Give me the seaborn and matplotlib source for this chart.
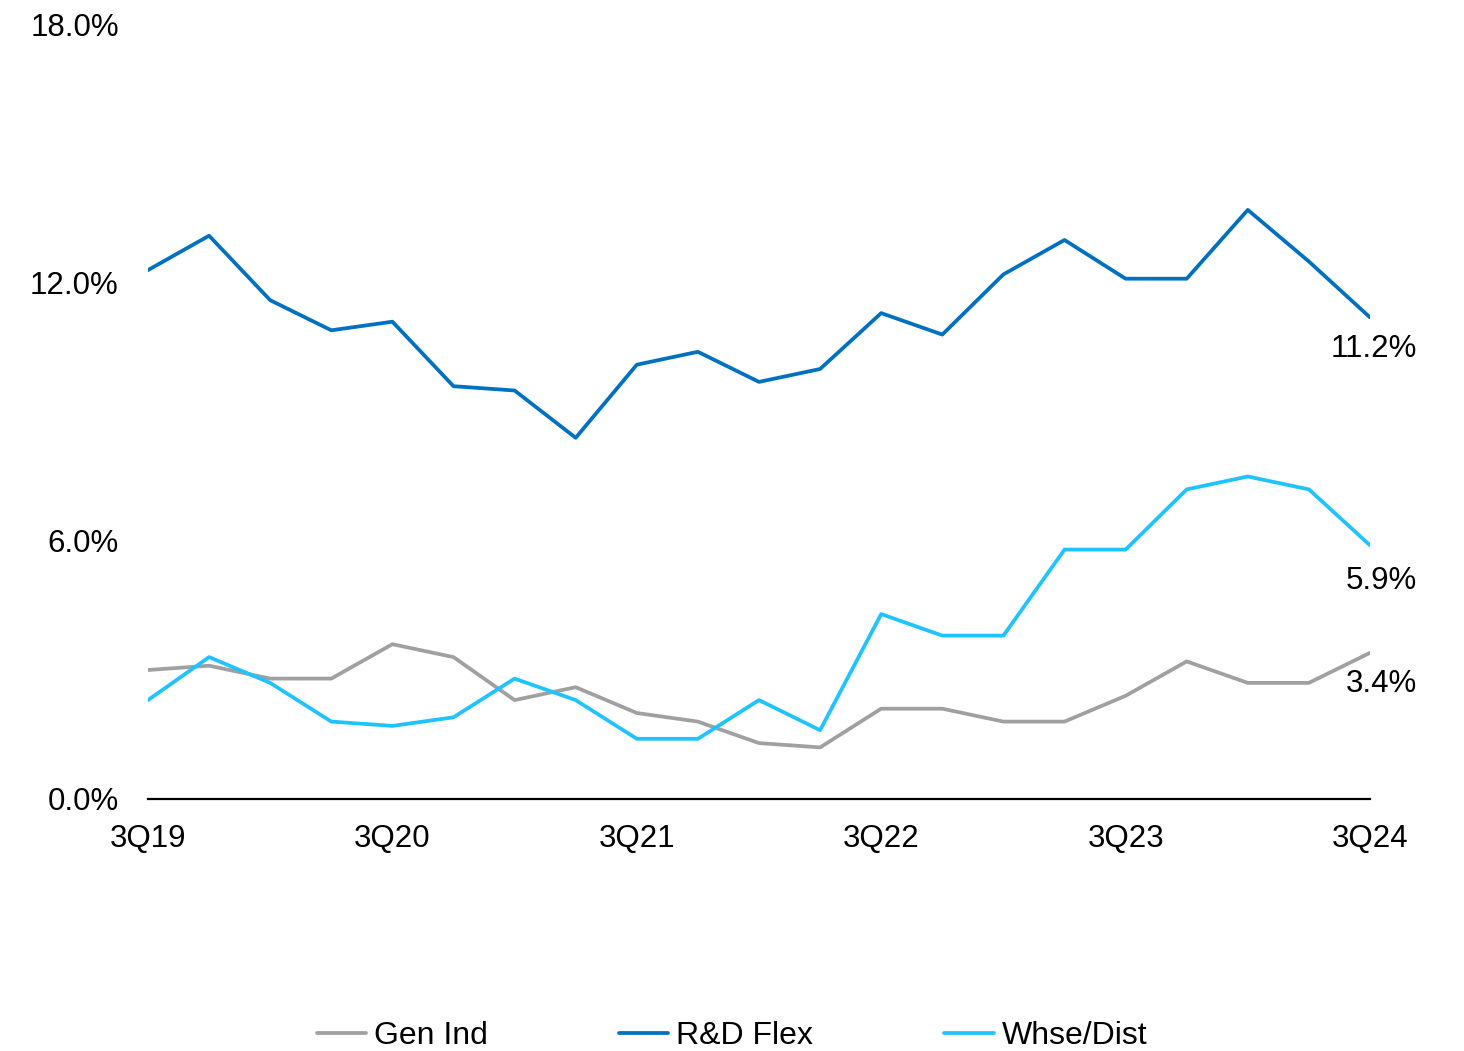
import matplotlib
matplotlib.use("Agg")
import matplotlib.pyplot as plt
import seaborn as sns
import pandas as pd
from matplotlib.lines import Line2D
from matplotlib.ticker import FuncFormatter

# Quarterly vacancy rates by property type (%)
quarters = ["3Q19", "4Q19", "1Q20", "2Q20", "3Q20", "4Q20", "1Q21", "2Q21",
            "3Q21", "4Q21", "1Q22", "2Q22", "3Q22", "4Q22", "1Q23", "2Q23",
            "3Q23", "4Q23", "1Q24", "2Q24", "3Q24"]
gen_ind = [3.0, 3.1, 2.8, 2.8, 3.6, 3.3, 2.3, 2.6, 2.0, 1.8, 1.3, 1.2,
           2.1, 2.1, 1.8, 1.8, 2.4, 3.2, 2.7, 2.7, 3.4]
rd_flex = [12.3, 13.1, 11.6, 10.9, 11.1, 9.6, 9.5, 8.4, 10.1, 10.4, 9.7, 10.0,
           11.3, 10.8, 12.2, 13.0, 12.1, 12.1, 13.7, 12.5, 11.2]
whse_dist = [2.3, 3.3, 2.7, 1.8, 1.7, 1.9, 2.8, 2.3, 1.4, 1.4, 2.3, 1.6,
             4.3, 3.8, 3.8, 5.8, 5.8, 7.2, 7.5, 7.2, 5.9]
series_names = ["Gen Ind", "R&D Flex", "Whse/Dist"]
series_colors = ["#A0A0A0", "#0070C0", "#1FC3FF"]
y_ticks = [0.0, 6.0, 12.0, 18.0]

sns.set_theme(style="white")
plt.rcParams["font.family"] = ["Liberation Sans", "DejaVu Sans"]
plt.rcParams["text.color"] = "black"

frames = []
for name, vals in zip(series_names, [gen_ind, rd_flex, whse_dist]):
    frames.append(pd.DataFrame({"idx": range(len(quarters)), "rate": vals,
                                "series": name}))
df = pd.concat(frames, ignore_index=True)

fig = plt.figure(figsize=(14.64, 10.51), dpi=100)
ax = fig.add_axes([148 / 1464, 1 - 799 / 1051, (1370 - 148) / 1464, (799 - 25) / 1051])

palette = dict(zip(series_names, series_colors))
sns.lineplot(data=df, x="idx", y="rate", hue="series", palette=palette,
             linewidth=2.7, ax=ax, legend=False)

ax.set_xlim(0, len(quarters) - 1)
ax.set_ylim(0, 18)
ax.set_yticks(y_ticks)
ax.yaxis.set_major_formatter(FuncFormatter(lambda v, p: f"{v:.1f}%"))
ax.set_xticks(range(0, len(quarters), 4))
ax.set_xticklabels(quarters[::4])
ax.tick_params(axis="y", length=0, pad=21, labelsize=22.5, colors="black")
ax.tick_params(axis="x", length=0, pad=18, labelsize=22.5, colors="black")
ax.set_xlabel("")
ax.set_ylabel("")
for side in ["top", "right", "left"]:
    ax.spines[side].set_visible(False)
ax.spines["bottom"].set_color("black")
ax.spines["bottom"].set_linewidth(1.6)
ax.grid(False)

# End-of-series value labels
last = len(quarters) - 1
for vals, dy in [(rd_flex, -12), (whse_dist, -15), (gen_ind, -12)]:
    ax.annotate(f"{vals[-1]:.1f}%", xy=(last, vals[-1]), xytext=(34, dy),
                textcoords="offset points", ha="right", va="top",
                fontsize=22.5, color="black", annotation_clip=False)

handles = [Line2D([0], [0], color=c, linewidth=2.7) for c in series_colors]
fig.legend(handles, series_names, loc="center", bbox_to_anchor=(0.5, 1 - 1036 / 1051),
           ncol=3, frameon=False, fontsize=23, handlelength=1.55, handletextpad=0.25,
           columnspacing=4.1, labelcolor="black")

fig.savefig("out.png", dpi=100, facecolor="white")
